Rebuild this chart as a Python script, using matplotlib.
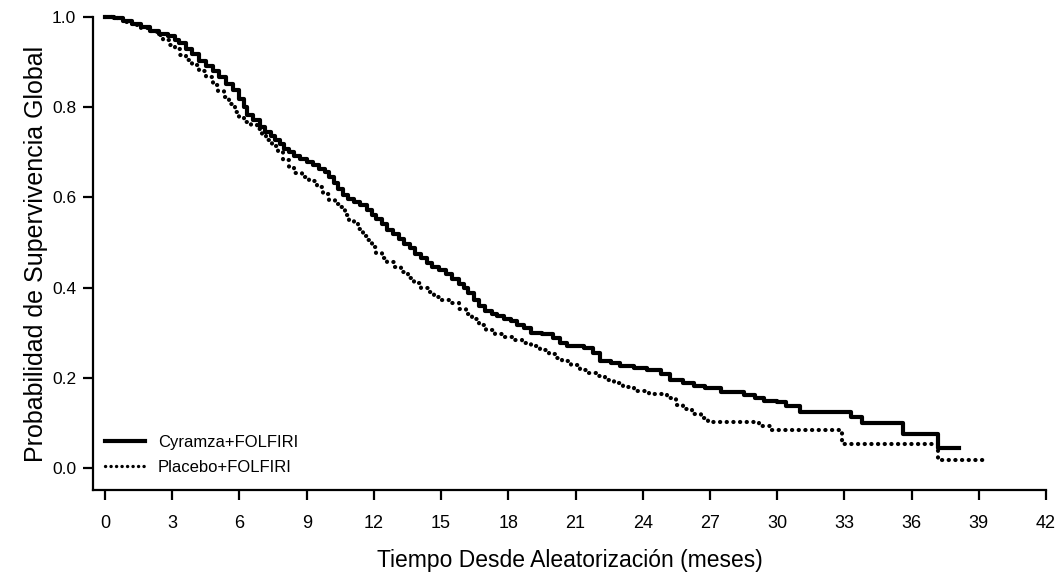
import matplotlib
matplotlib.use('Agg')
import matplotlib.pyplot as plt
from matplotlib.lines import Line2D

plt.rcParams['font.family'] = ['Liberation Sans', 'DejaVu Sans']

# Cyramza+FOLFIRI (solid)
t_cyr = [0, 0.4, 0.8, 1.2, 1.6, 2.0, 2.4, 2.8, 3.1, 3.3, 3.6, 3.9, 4.2, 4.5, 4.8,
         5.1, 5.4, 5.7, 6.0, 6.2, 6.35, 6.6, 6.9, 7.15, 7.4, 7.6, 7.8, 8.0, 8.2,
         8.45, 8.7, 9.0, 9.3, 9.55, 9.8, 10.0, 10.2, 10.4, 10.6, 10.85, 11.1,
         11.4, 11.7, 11.9, 12.1, 12.35, 12.6, 12.85, 13.1, 13.35, 13.6, 13.85,
         14.1, 14.35, 14.6, 14.9, 15.2, 15.5, 15.8, 16.0, 16.2, 16.45, 16.7,
         16.95, 17.25, 17.5, 17.8, 18.1, 18.4, 18.7, 19.0, 19.5, 20.0, 20.3,
         20.6, 21.4, 21.8, 22.1, 22.6, 23.0, 23.6, 24.2, 24.8, 25.2, 25.8, 26.3,
         26.8, 27.5, 28.5, 29.0, 29.4, 30.0, 30.4, 31.0, 33.3, 33.8, 35.6, 37.2,
         38.1]
s_cyr = [1.0, 0.997, 0.992, 0.985, 0.978, 0.970, 0.963, 0.957, 0.950, 0.942,
         0.930, 0.918, 0.902, 0.892, 0.880, 0.868, 0.852, 0.838, 0.818, 0.800,
         0.783, 0.772, 0.756, 0.746, 0.736, 0.728, 0.718, 0.708, 0.700, 0.692,
         0.686, 0.679, 0.671, 0.664, 0.656, 0.645, 0.632, 0.618, 0.605, 0.596,
         0.589, 0.582, 0.572, 0.562, 0.552, 0.540, 0.528, 0.518, 0.507, 0.497,
         0.487, 0.475, 0.465, 0.455, 0.446, 0.438, 0.430, 0.418, 0.407, 0.400,
         0.388, 0.372, 0.358, 0.348, 0.342, 0.337, 0.331, 0.326, 0.318, 0.310,
         0.300, 0.296, 0.288, 0.278, 0.270, 0.265, 0.255, 0.237, 0.232, 0.226,
         0.222, 0.217, 0.208, 0.194, 0.188, 0.182, 0.177, 0.168, 0.162, 0.155,
         0.148, 0.146, 0.137, 0.125, 0.113, 0.100, 0.075, 0.045, 0.045]

# Placebo+FOLFIRI (dotted)
t_pla = [0, 0.4, 0.8, 1.2, 1.6, 2.0, 2.3, 2.6, 2.9, 3.1, 3.35, 3.6, 3.9, 4.2,
         4.5, 4.8, 5.05, 5.3, 5.55, 5.8, 6.0, 6.2, 6.5, 6.8, 7.0, 7.2, 7.45,
         7.7, 7.95, 8.2, 8.45, 8.8, 9.1, 9.45, 9.75, 10.0, 10.25, 10.5, 10.7,
         10.9, 11.1, 11.3, 11.5, 11.7, 11.9, 12.1, 12.35, 12.6, 12.9, 13.2, 13.5,
         13.8, 14.1, 14.4, 14.7, 15.0, 15.4, 15.8, 16.1, 16.4, 16.7, 17.0, 17.4,
         17.8, 18.2, 18.6, 19.0, 19.4, 19.8, 20.1, 20.4, 20.8, 21.2, 21.5, 21.9,
         22.3, 22.7, 23.1, 23.6, 24.3, 25.1, 25.5, 25.8, 26.2, 26.6, 26.9, 29.2,
         29.7, 32.9, 37.2, 39.3]
s_pla = [1.0, 0.997, 0.990, 0.983, 0.975, 0.968, 0.960, 0.950, 0.938, 0.928,
         0.916, 0.905, 0.893, 0.880, 0.866, 0.850, 0.836, 0.822, 0.806, 0.790,
         0.778, 0.767, 0.760, 0.752, 0.740, 0.727, 0.713, 0.700, 0.683, 0.666,
         0.654, 0.645, 0.636, 0.623, 0.608, 0.594, 0.585, 0.578, 0.560, 0.548,
         0.540, 0.530, 0.515, 0.505, 0.490, 0.477, 0.466, 0.456, 0.445, 0.434,
         0.422, 0.410, 0.400, 0.390, 0.378, 0.372, 0.365, 0.352, 0.342, 0.330,
         0.318, 0.306, 0.298, 0.290, 0.284, 0.278, 0.270, 0.262, 0.252, 0.244,
         0.237, 0.228, 0.218, 0.211, 0.204, 0.196, 0.188, 0.180, 0.170, 0.165,
         0.155, 0.140, 0.130, 0.120, 0.111, 0.102, 0.093, 0.084, 0.052, 0.018,
         0.018]

xticks = list(range(0, 43, 3))
yticks = [0.0, 0.2, 0.4, 0.6, 0.8, 1.0]

fig = plt.figure(figsize=(10.59, 5.77), dpi=100)
ax = fig.add_axes([0.0878, 0.1508, 0.8999, 0.8197])

dots = (0, (0.05, 1.55))
ax.plot(t_cyr, s_cyr, drawstyle='steps-post', color='black', lw=3.0,
        clip_on=False)
ax.plot(t_pla, s_pla, drawstyle='steps-post', color='black', lw=3.0,
        linestyle=dots, dash_capstyle='round', clip_on=False)

ax.set_xlim(-0.54, 42)
ax.set_ylim(-0.049, 1.0)
ax.set_xticks(xticks)
ax.set_xticklabels([str(x) for x in xticks])
ax.set_yticks(yticks)
ax.set_yticklabels(['%.1f' % y for y in yticks])

ax.spines['top'].set_visible(False)
ax.spines['right'].set_visible(False)
ax.spines['left'].set_linewidth(1.6)
ax.spines['bottom'].set_linewidth(1.6)
ax.tick_params(axis='x', direction='out', length=7, width=1.6, pad=11, labelsize=13)
ax.tick_params(axis='y', direction='out', length=7, width=1.6, pad=5, labelsize=12.5)

ax.set_xlabel('Tiempo Desde Aleatorización (meses)', fontsize=16.5, labelpad=12)
ax.set_ylabel('Probabilidad de Supervivencia Global', fontsize=18, labelpad=3)

handles = [Line2D([], [], color='black', lw=3.0),
           Line2D([], [], color='black', lw=2.4, linestyle=(0, (0.05, 1.6)),
                  dash_capstyle='round')]
ax.legend(handles, ['Cyramza+FOLFIRI', 'Placebo+FOLFIRI'], loc='lower left',
          frameon=False, fontsize=12, handlelength=2.4, labelspacing=0.62,
          borderaxespad=0.3, bbox_to_anchor=(0.0, 0.007))

fig.savefig('out.png', dpi=100)
